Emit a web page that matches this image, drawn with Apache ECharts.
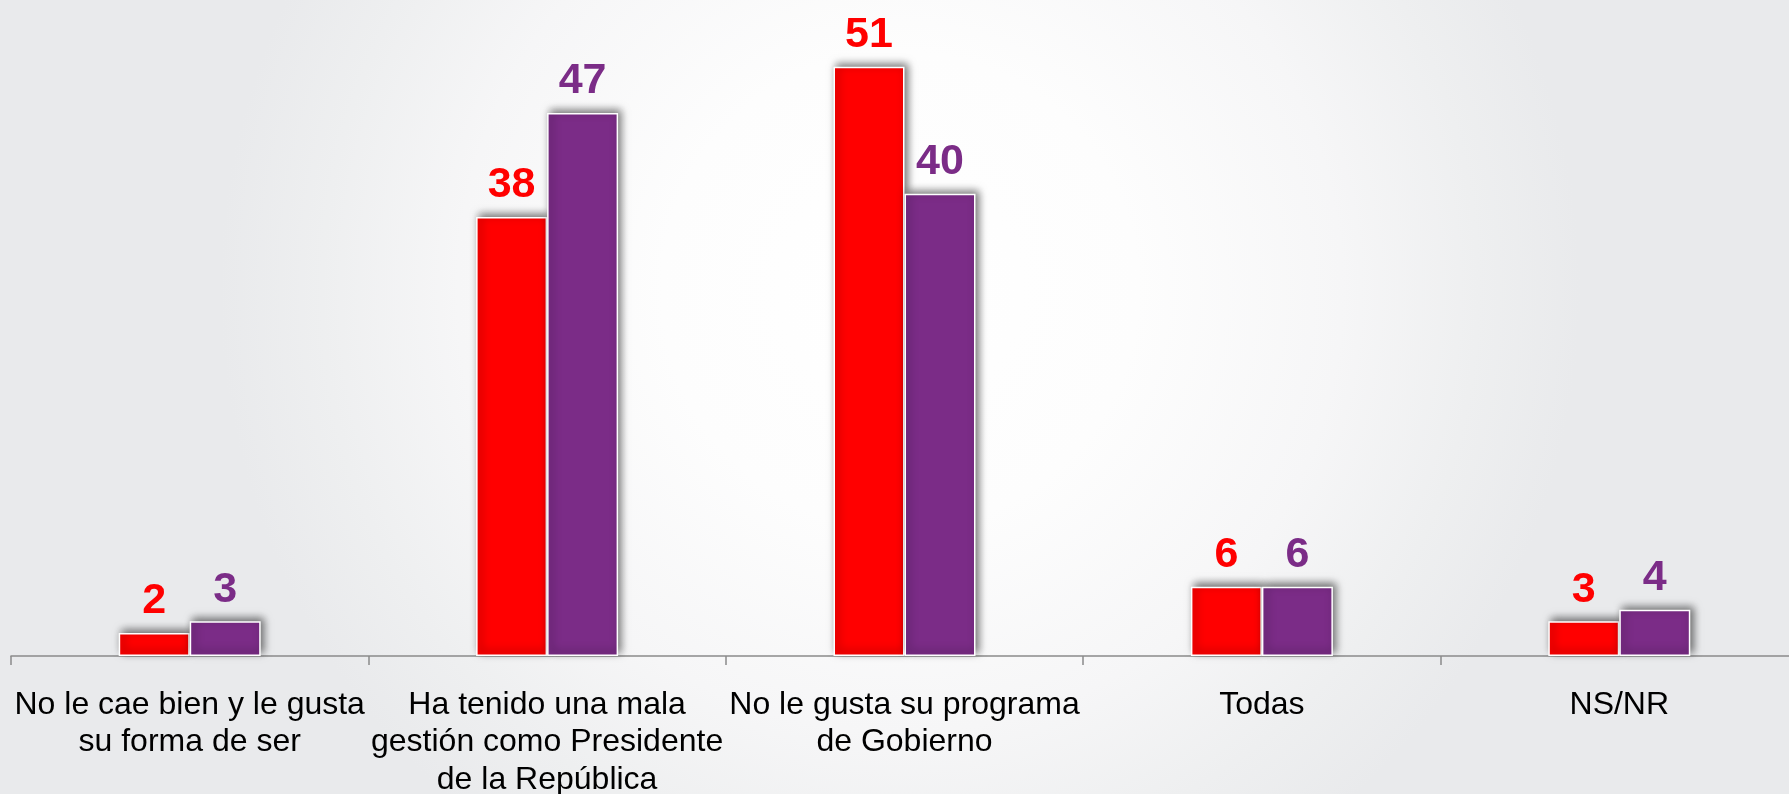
<!DOCTYPE html>
<html>
<head>
<meta charset="utf-8">
<script src="https://cdn.jsdelivr.net/npm/echarts@6/dist/echarts.min.js"></script>
<style>
  html, body { margin: 0; padding: 0; width: 1789px; height: 794px; overflow: hidden; }
  #chart {
    width: 1789px; height: 794px;
    background: radial-gradient(circle 680px at 900px 290px, #ffffff 0%, #fdfdfd 35%, #f6f6f7 65%, #eeeff0 85%, #e9eaec 100%);
    background-color: #e9eaec;
  }
</style>
</head>
<body>
<div id="chart"></div>
<script>
const categories = [
  'No le cae bien y le gusta\nsu forma de ser',
  'Ha tenido una mala\ngestión como Presidente\nde la República',
  'No le gusta su programa\nde Gobierno',
  'Todas',
  'NS/NR'
];
const seriesRed = [2, 38, 51, 6, 3];
const seriesPurple = [3, 47, 40, 6, 4];

const RED = '#ff0000';
const PURPLE = '#7b2c87';
const FONT = '"Liberation Sans", Arial, sans-serif';

function barSeries(name, data, color) {
  return {
    name: name,
    type: 'bar',
    data: data,
    barWidth: 71,
    barGap: '0%',
    itemStyle: {
      color: color,
      borderColor: '#ffffff',
      borderWidth: 1.5,
      shadowColor: 'rgba(0,0,0,0.55)',
      shadowBlur: 8,
      shadowOffsetX: 3,
      shadowOffsetY: -3
    },
    label: {
      show: true,
      position: 'top',
      distance: 10,
      color: color,
      fontFamily: FONT,
      fontWeight: 'bold',
      fontSize: 43,
      lineHeight: 43
    },
    emphasis: { disabled: true }
  };
}

const chart = echarts.init(document.getElementById('chart'), null, { renderer: 'canvas' });
chart.setOption({
  backgroundColor: 'transparent',
  animation: false,
  grid: { left: 11, top: 9, bottom: 138, width: 1787, containLabel: false, outerBoundsMode: 'none' },
  xAxis: {
    type: 'category',
    data: categories,
    axisLine: { show: true, lineStyle: { color: '#8a8a8a', width: 1.5 } },
    axisTick: { show: true, length: 9, lineStyle: { color: '#8a8a8a', width: 1.5 } },
    axisLabel: {
      interval: 0,
      margin: 30,
      color: '#000000',
      fontFamily: FONT,
      fontSize: 32,
      lineHeight: 37.5,
      align: 'center'
    }
  },
  yAxis: {
    type: 'value',
    min: 0,
    max: 56,
    show: false,
    splitLine: { show: false }
  },
  series: [
    barSeries('A', seriesRed, RED),
    barSeries('B', seriesPurple, PURPLE)
  ]
});
</script>
</body>
</html>
